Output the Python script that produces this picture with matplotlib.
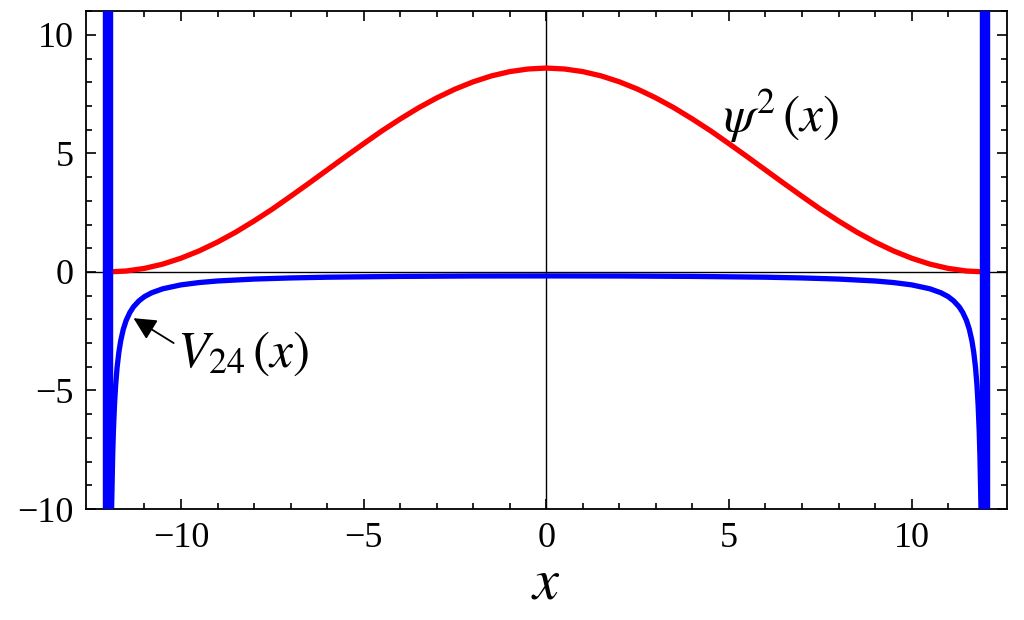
import matplotlib
matplotlib.use("Agg")
import matplotlib.pyplot as plt
from matplotlib.ticker import MultipleLocator

plt.rcParams['font.family'] = ['Liberation Serif', 'DejaVu Serif']
plt.rcParams['mathtext.fontset'] = 'stix'

# psi^2(x)
psi_x = [-12, -11.5, -11, -10.5, -10, -9.5, -9, -8.5, -8, -7.5, -7, -6.5, -6, -5.5, -5,
         -4.5, -4, -3.5, -3, -2.5, -2, -1.5, -1, -0.5, 0,
         0.5, 1, 1.5, 2, 2.5, 3, 3.5, 4, 4.5, 5, 5.5, 6, 6.5, 7, 7.5, 8,
         8.5, 9, 9.5, 10, 10.5, 11, 11.5, 12]
psi_y = [0.0, 0.04, 0.15, 0.33, 0.58, 0.89, 1.26, 1.68, 2.15, 2.65, 3.19, 3.74, 4.30, 4.86, 5.41,
         5.95, 6.45, 6.92, 7.34, 7.71, 8.02, 8.27, 8.45, 8.56, 8.60,
         8.56, 8.45, 8.27, 8.02, 7.71, 7.34, 6.92, 6.45, 5.95, 5.41, 4.86, 4.30, 3.74, 3.19, 2.65, 2.15,
         1.68, 1.26, 0.89, 0.58, 0.33, 0.15, 0.04, 0.0]

# V24(x)
v_x = [-11.92, -11.9, -11.87, -11.85, -11.82, -11.79, -11.75, -11.7, -11.65, -11.58, -11.5,
       -11.4, -11.3, -11.15, -11, -10.8, -10.5, -10, -9.5, -9, -8, -7, -6, -4, -2, 0,
       2, 4, 6, 7, 8, 9, 9.5, 10, 10.5, 10.8, 11, 11.15, 11.3, 11.4,
       11.5, 11.58, 11.65, 11.7, 11.75, 11.79, 11.82, 11.85, 11.87, 11.9, 11.92]
v_y = [-12.6, -10.0, -7.74, -6.7, -5.59, -4.8, -4.04, -3.38, -2.90, -2.42, -2.04,
       -1.71, -1.47, -1.22, -1.04, -0.877, -0.711, -0.545, -0.447, -0.381, -0.30, -0.253, -0.222, -0.188, -0.171, -0.167,
       -0.171, -0.188, -0.222, -0.253, -0.30, -0.381, -0.447, -0.545, -0.711, -0.877, -1.04, -1.22, -1.47, -1.71,
       -2.04, -2.42, -2.90, -3.38, -4.04, -4.8, -5.59, -6.7, -7.74, -10.0, -12.6]

wall_x = [-12, 12]

fig = plt.figure(figsize=(10.24, 6.2), dpi=100)
ax = fig.add_axes([0.084, 0.179, 0.899, 0.803])

ax.axhline(0, color='black', lw=1.0, zorder=1)
ax.axvline(0, color='black', lw=1.0, zorder=1)

ax.plot(psi_x, psi_y, color='#ff0000', lw=3.8, zorder=3)
ax.plot(v_x, v_y, color='#0000ff', lw=3.8, zorder=2)
for wx in wall_x:
    ax.axvline(wx, color='#0000ff', lw=7.5, zorder=4)

ax.set_xlim(-12.6, 12.6)
ax.set_ylim(-10, 11)

ax.xaxis.set_major_locator(MultipleLocator(5))
ax.xaxis.set_minor_locator(MultipleLocator(1))
ax.yaxis.set_major_locator(MultipleLocator(5))
ax.yaxis.set_minor_locator(MultipleLocator(1))
ax.tick_params(which='both', direction='in', top=True, right=True, width=1.2, color='black')
ax.tick_params(which='major', length=7.5, labelsize=26, pad=9)
ax.tick_params(which='minor', length=4.5)
for s in ax.spines.values():
    s.set_linewidth(1.3)

ax.set_xlabel(r'$x$', fontsize=42, labelpad=3)

ax.text(4.85, 6.6, r'$\psi^{2}\,(x)$', fontsize=37, ha='left', va='center')
ax.text(-10.1, -3.45, r'$V_{24}\,(x)$', fontsize=37, ha='left', va='center')
ax.annotate('', xy=(-11.3, -1.95), xytext=(-10.2, -3.0),
            arrowprops=dict(arrowstyle='-|>', color='black', lw=1.3,
                            mutation_scale=34, shrinkA=0, shrinkB=0))

fig.savefig('out.png', dpi=100)
